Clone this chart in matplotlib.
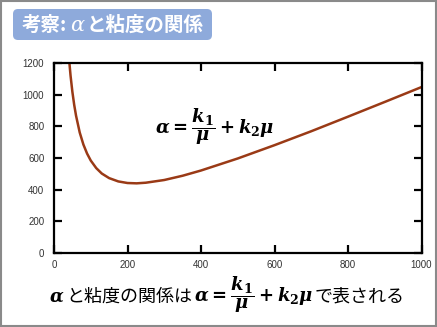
import numpy as np
import matplotlib
matplotlib.use('Agg')
import matplotlib.pyplot as plt
from matplotlib.offsetbox import TextArea, HPacker, AnnotationBbox
from matplotlib.patches import FancyBboxPatch, Rectangle

plt.rcParams['mathtext.fontset'] = 'custom'
plt.rcParams['mathtext.it'] = 'DejaVu Serif:italic:bold'
plt.rcParams['mathtext.rm'] = 'DejaVu Serif:bold'
plt.rcParams['mathtext.bf'] = 'DejaVu Serif:bold'

## DATA
mu = [40, 45, 50, 55, 60, 70, 80, 90, 100, 115, 130, 150, 175, 200, 225,
      250, 300, 350, 400, 500, 600, 700, 800, 900, 1000]
alpha = [1250, 1121, 1018, 935, 867, 761, 685, 628, 584, 536, 502, 473, 452,
         442, 440, 444, 461, 488, 521, 597, 681, 769, 861, 954, 1048]
xticks = [0, 200, 400, 600, 800, 1000]
yticks = [0, 200, 400, 600, 800, 1000, 1200]

title_parts = ['考察:', 'α', 'と粘度の関係']
eq = r'$\alpha = \dfrac{k_1}{\mu} + k_2\mu$'
caption_parts = [r'$\alpha$', 'と粘度の関係は', eq, 'で表される']

W, H = 437, 327
JP = ['Noto Sans CJK JP', 'DejaVu Sans']

fig = plt.figure(figsize=(W / 100, H / 100), dpi=100)

## MAIN PLOT
ax = fig.add_axes([54 / W, 1 - 253 / H, (421.5 - 54) / W, (253 - 63) / H])
ax.plot(mu, alpha, color='#9a3a16', lw=1.8)
ax.set_xlim(0, 1000)
ax.set_ylim(0, 1200)
ax.set_xticks(xticks)
ax.set_yticks(yticks)
ax.tick_params(direction='in', length=6, width=1.6, top=True, right=True,
               labelsize=7, labelcolor='#333333')
ax.tick_params(axis='x', pad=5)
ax.tick_params(axis='y', pad=7)
for lab in ax.get_xticklabels() + ax.get_yticklabels():
    lab.set_family('Liberation Sans')
for s in ax.spines.values():
    s.set_linewidth(1.6)

## OVERLAY IN PIXEL COORDS
ov = fig.add_axes([0, 0, 1, 1], facecolor='none')
ov.set_xlim(0, W)
ov.set_ylim(H, 0)
ov.axis('off')

ov.add_patch(Rectangle((0.5, 0.5), W - 1.5, H - 1.5, fill=False,
                       edgecolor='#8a8a8a', lw=1.5))
ov.add_patch(FancyBboxPatch((17, 13), 191, 23,
                            boxstyle='round,pad=4,rounding_size=5',
                            facecolor='#8eaadb', edgecolor='none'))

title_box = HPacker(children=[
    TextArea(title_parts[0], textprops=dict(family=JP, color='white',
                                            fontsize=14, weight='bold')),
    TextArea(title_parts[1], textprops=dict(family='DejaVu Serif',
                                            style='italic', color='white',
                                            fontsize=15)),
    TextArea(title_parts[2], textprops=dict(family=JP, color='white',
                                            fontsize=14, weight='bold')),
], align='baseline', pad=0, sep=2)
ov.add_artist(AnnotationBbox(title_box, (113, 25), xycoords='data',
                             frameon=False, box_alignment=(0.5, 0.5)))

ov.text(215, 127, eq, fontsize=13, ha='center', va='center', color='black')

cap_box = HPacker(children=[
    TextArea(caption_parts[0], textprops=dict(fontsize=13, color='black')),
    TextArea(caption_parts[1], textprops=dict(family=JP, fontsize=13,
                                              color='black')),
    TextArea(caption_parts[2], textprops=dict(fontsize=13, color='black')),
    TextArea(caption_parts[3], textprops=dict(family=JP, fontsize=13,
                                              color='black')),
], align='baseline', pad=0, sep=1)
ov.add_artist(AnnotationBbox(cap_box, (227, 295), xycoords='data',
                             frameon=False, box_alignment=(0.5, 0.5)))

fig.savefig('out.png', dpi=100)
